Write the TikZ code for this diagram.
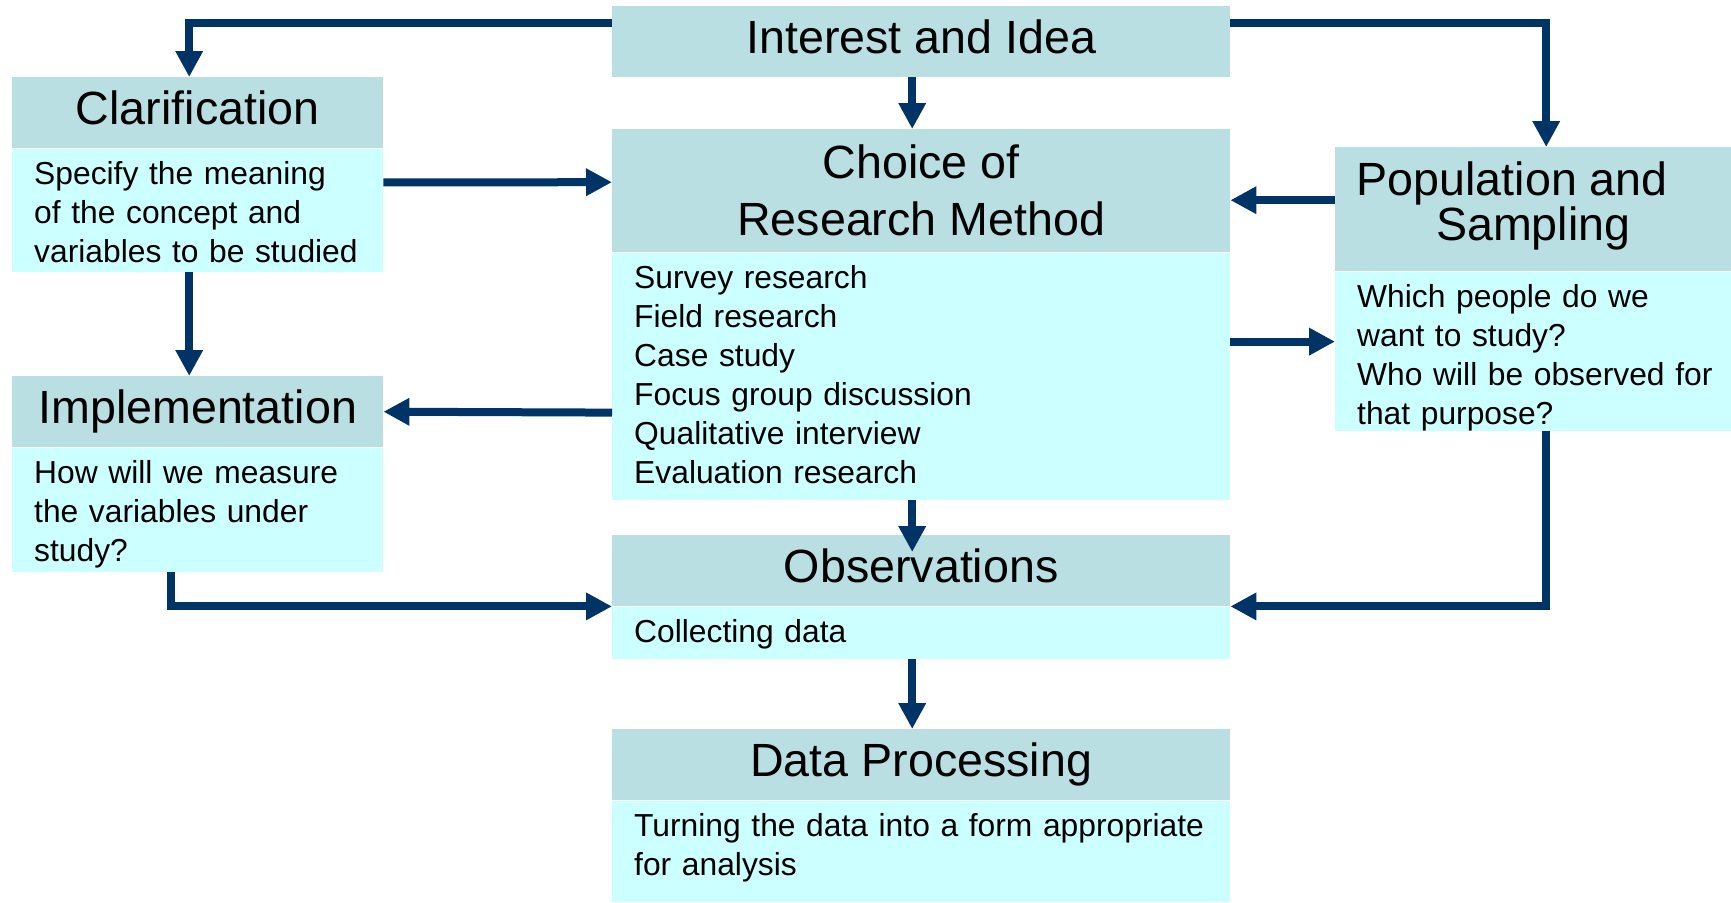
\documentclass[tikz,border=0pt]{standalone}
\usepackage{fontspec}
\setmainfont{Liberation Sans}
\usetikzlibrary{arrows.meta}
\definecolor{hdrcol}{HTML}{BADFE2}
\definecolor{bdycol}{HTML}{CCFFFF}
\definecolor{arrcol}{HTML}{003366}
\begin{document}
\begin{tikzpicture}[x=1pt, y=-1pt, line join=miter,
	hdr/.style={fill=hdrcol, inner sep=0pt, anchor=north west, align=center, font=\fontsize{46.6}{57}\selectfont},
	one/.style={minimum height=71pt, text height=33.5pt, text depth=10.3pt},
	bdy/.style={fill=bdycol, inner xsep=22pt, inner ysep=0pt, anchor=north west, align=left, font=\fontsize{31.8}{39}\selectfont, text height=36pt},
	arr/.style={draw=arrcol, line width=8pt, -{Triangle[width=26pt,length=26pt]}}]
	\useasboundingbox (0,0) rectangle (1731,902);
	% boxes
	\node[hdr, one, minimum width=618pt] (idea) at (612,6) {Interest and Idea};
	\node[hdr, one, minimum width=371pt] (clar) at (12,77) {Clarification};
	\node[bdy, text width=327pt, text depth=87pt] (clarb) at (clar.south west) {Specify the meaning\\of the concept and\\variables to be studied};
	\node[hdr, minimum width=618pt, minimum height=123pt] (meth) at (612,129) {Choice of\\Research Method};
	\node[bdy, text width=574pt, text depth=211pt] (methb) at (meth.south west) {Survey research\\Field research\\Case study\\Focus group discussion\\Qualitative interview\\Evaluation research};
	\node[hdr, minimum width=396pt, minimum height=124pt, text height=79pt, text depth=16pt, font=\fontsize{46.6}{45}\selectfont] (pop) at (1335,147) {Population and\hspace*{42pt}\\Sampling};
	\node[bdy, text width=370pt, text depth=123pt] (popb) at (pop.south west) {Which people do we\\want to study?\\Who will be observed for\\that purpose?};
	\node[hdr, one, minimum width=371pt] (impl) at (12,376) {Implementation};
	\node[bdy, text width=327pt, text depth=88pt] (implb) at (impl.south west) {How will we measure\\the variables under\\study?};
	\node[hdr, one, minimum width=618pt] (obs) at (612,535) {Observations};
	\node[bdy, text width=574pt, text depth=16pt] (obsb) at (obs.south west) {Collecting data};
	\node[hdr, one, minimum width=618pt] (proc) at (612,729) {Data Processing};
	\node[bdy, text width=574pt, text depth=65pt] (procb) at (proc.south west) {Turning the data into a form appropriate\\for analysis};
	% arrows
	\draw[arr] ([yshift=-17pt]idea.north west) -| ([xshift=-8.5pt]clar.north);
	\draw[arr] ([yshift=-17pt]idea.north east) -| ([xshift=13pt]pop.north);
	\draw[arr] ([xshift=-9pt]idea.south) -- ([xshift=-9pt]meth.north);
	\draw[arr] ([yshift=-34pt]clarb.north east) -- ([yshift=8.5pt]meth.west);
	\draw[arr] ([xshift=-8.5pt]clarb.south) -- ([xshift=-8.5pt]impl.north);
	\draw[arr] ([yshift=9pt]pop.west) -- ([yshift=-9.5pt]meth.east);
	\draw[arr] ([yshift=34.5pt]methb.east) -- ([yshift=9.5pt]popb.west);
	\draw[arr] ([yshift=-36.5pt]methb.west) -- (impl.east);
	\draw[arr] ([xshift=-9pt]methb.south) -- ([xshift=-9pt, yshift=-17pt]obs.north);
	\draw[arr] ([xshift=-26.5pt]implb.south) |- (obsb.north west);
	\draw[arr] ([xshift=4pt]popb.south) |- (obsb.north east);
	\draw[arr] ([xshift=-9pt]obsb.south) -- ([xshift=-9pt]proc.north);
\end{tikzpicture}
\end{document}
